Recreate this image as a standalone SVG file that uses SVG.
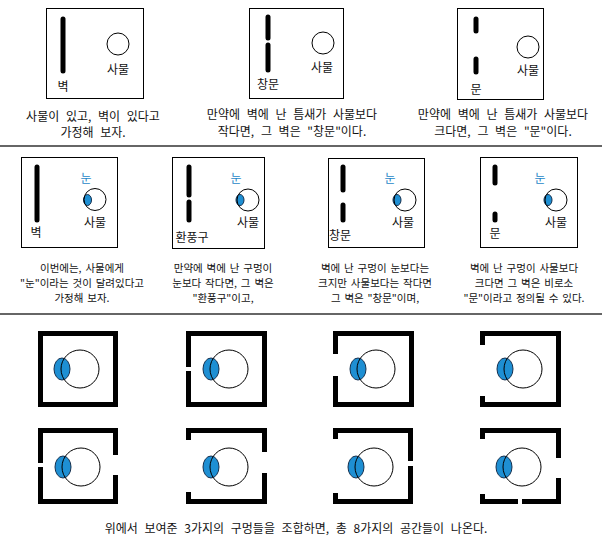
<svg xmlns="http://www.w3.org/2000/svg" width="602" height="547" viewBox="0 0 602 547">
<style>
text{font-family:"Noto Sans CJK KR","Noto Sans",sans-serif;font-size:12px;fill:#111;word-spacing:4px;}
.c{text-anchor:middle;}
.s{font-size:10.5px;word-spacing:1.5px;}
.eyet{fill:#1f88c8;}
.frame{fill:#fff;stroke:#000;stroke-width:1;}
.bar{stroke:#000;stroke-width:5;stroke-linecap:round;fill:none;}
.obj{fill:none;stroke:#000;stroke-width:1;}
.eye{fill:#1e8fd3;stroke:#16304e;stroke-width:1;}
.wall{fill:#000;}
.sep{stroke:#333;stroke-width:1.5;}
</style>
<rect width="602" height="547" fill="#fff"/>
<g id="separators">
<line class="sep" x1="0" y1="146" x2="602" y2="146"/>
<line class="sep" x1="0" y1="314" x2="602" y2="314"/>
</g>
<!-- Row 1 -->
<g id="p1">
<rect class="frame" x="46.5" y="8.5" width="97" height="90"/>
<line class="bar" x1="63" y1="19" x2="63" y2="71"/>
<circle class="obj" cx="118" cy="44" r="11"/>
<text class="c" x="118" y="74">사물</text>
<text class="c" x="63" y="91">벽</text>
<text class="c" x="93" y="121">사물이 있고, 벽이 있다고</text>
<text class="c" x="93" y="137">가정해 보자.</text>
</g>
<g id="p2">
<rect class="frame" x="249.5" y="8.5" width="94" height="90"/>
<line class="bar" x1="268" y1="17" x2="268" y2="38"/>
<line class="bar" x1="268" y1="45" x2="268" y2="70"/>
<circle class="obj" cx="323" cy="43" r="11"/>
<text class="c" x="322" y="72">사물</text>
<text class="c" x="268" y="89">창문</text>
<text class="c" x="292" y="119">만약에 벽에 난 틈새가 사물보다</text>
<text class="c" x="292" y="136">작다면, 그 벽은 "창문"이다.</text>
</g>
<g id="p3">
<rect class="frame" x="457.5" y="8.5" width="86" height="91"/>
<line class="bar" x1="476" y1="19" x2="476" y2="31"/>
<line class="bar" x1="476" y1="59" x2="476" y2="72"/>
<circle class="obj" cx="528" cy="47" r="11"/>
<text class="c" x="528" y="75">사물</text>
<text class="c" x="476" y="94">문</text>
<text class="c" x="503" y="119">만약에 벽에 난 틈새가 사물보다</text>
<text class="c" x="503" y="136">크다면, 그 벽은 "문"이다.</text>
</g>
<!-- Row 2 -->
<g id="p4">
<rect class="frame" x="21.5" y="157.5" width="96" height="90"/>
<line class="bar" x1="37" y1="167" x2="37" y2="220"/>
<ellipse class="eye" cx="87.5" cy="200" rx="4" ry="5.5"/>
<circle class="obj" cx="95" cy="199.5" r="11"/>
<text class="c eyet" x="86" y="183">눈</text>
<text class="c" x="95" y="227">사물</text>
<text class="c" x="36" y="237">벽</text>
<text class="c s" x="82" y="272">이번에는, 사물에게</text>
<text class="c s" x="82" y="287">"눈"이라는 것이 달려있다고</text>
<text class="c s" x="82" y="302">가정해 보자.</text>
</g>
<g id="p5">
<rect class="frame" x="172.5" y="157.5" width="92" height="91"/>
<line class="bar" x1="189" y1="167" x2="189" y2="195"/>
<line class="bar" x1="189" y1="202" x2="189" y2="220"/>
<ellipse class="eye" cx="240" cy="200" rx="4" ry="5.5"/>
<circle class="obj" cx="248" cy="200" r="11"/>
<text class="c eyet" x="236" y="183">눈</text>
<text class="c" x="248" y="227">사물</text>
<text class="c" x="192" y="242">환풍구</text>
<text class="c s" x="223" y="272">만약에 벽에 난 구멍이</text>
<text class="c s" x="223" y="287">눈보다 작다면, 그 벽은</text>
<text class="c s" x="223" y="302">"환풍구"이고,</text>
</g>
<g id="p6">
<rect class="frame" x="328.5" y="158.5" width="96" height="89"/>
<line class="bar" x1="343" y1="167" x2="343" y2="190"/>
<line class="bar" x1="343" y1="205" x2="343" y2="220"/>
<ellipse class="eye" cx="397" cy="200" rx="4" ry="5.5"/>
<circle class="obj" cx="405" cy="200" r="11"/>
<text class="c eyet" x="390" y="183">눈</text>
<text class="c" x="403" y="227">사물</text>
<text class="c" x="340" y="240">창문</text>
<text class="c s" x="375" y="272">벽에 난 구멍이 눈보다는</text>
<text class="c s" x="375" y="287">크지만 사물보다는 작다면</text>
<text class="c s" x="375" y="302">그 벽은 "창문"이며,</text>
</g>
<g id="p7">
<rect class="frame" x="480.5" y="157.5" width="97" height="90"/>
<line class="bar" x1="495" y1="167" x2="495" y2="183"/>
<line class="bar" x1="495" y1="214" x2="495" y2="220"/>
<ellipse class="eye" cx="548" cy="200" rx="4" ry="5.5"/>
<circle class="obj" cx="556" cy="200" r="11"/>
<text class="c eyet" x="540" y="183">눈</text>
<text class="c" x="556" y="227">사물</text>
<text class="c" x="495" y="238">문</text>
<text class="c s" x="524" y="272">벽에 난 구멍이 사물보다</text>
<text class="c s" x="524" y="287">크다면 그 벽은 비로소</text>
<text class="c s" x="524" y="302">"문"이라고 정의될 수 있다.</text>
</g>
<!-- Row 3 -->
<g id="b1">
<rect class="wall" x="38" y="331" width="80" height="5"/>
<rect class="wall" x="38" y="402" width="80" height="5"/>
<rect class="wall" x="38" y="331" width="5" height="76"/>
<rect class="wall" x="113" y="331" width="5" height="76"/>
<ellipse class="eye" cx="62" cy="369" rx="8" ry="11"/>
<circle class="obj" cx="80" cy="369" r="19"/>
</g>
<g id="b2">
<rect class="wall" x="186" y="331" width="81" height="5"/>
<rect class="wall" x="186" y="402" width="81" height="5"/>
<rect class="wall" x="186" y="331" width="5" height="36"/>
<rect class="wall" x="186" y="371" width="5" height="36"/>
<rect class="wall" x="262" y="331" width="5" height="76"/>
<ellipse class="eye" cx="211" cy="369" rx="8" ry="11"/>
<circle class="obj" cx="229" cy="369" r="19"/>
</g>
<g id="b3">
<rect class="wall" x="333" y="331" width="81" height="5"/>
<rect class="wall" x="333" y="402" width="81" height="5"/>
<rect class="wall" x="333" y="331" width="5" height="23"/>
<rect class="wall" x="333" y="376" width="5" height="31"/>
<rect class="wall" x="409" y="331" width="5" height="76"/>
<ellipse class="eye" cx="358" cy="369" rx="8" ry="11"/>
<circle class="obj" cx="376" cy="369" r="19"/>
</g>
<g id="b4">
<rect class="wall" x="480" y="331" width="81" height="5"/>
<rect class="wall" x="480" y="402" width="81" height="5"/>
<rect class="wall" x="480" y="331" width="5" height="14"/>
<rect class="wall" x="480" y="396" width="5" height="11"/>
<rect class="wall" x="556" y="331" width="5" height="76"/>
<ellipse class="eye" cx="505" cy="369" rx="8" ry="11"/>
<circle class="obj" cx="523" cy="369" r="19"/>
</g>
<!-- Row 4 -->
<g id="b5">
<rect class="wall" x="38" y="428" width="80" height="5"/>
<rect class="wall" x="38" y="499" width="80" height="5"/>
<rect class="wall" x="38" y="428" width="5" height="35"/>
<rect class="wall" x="38" y="467" width="5" height="37"/>
<rect class="wall" x="113" y="428" width="5" height="27"/>
<rect class="wall" x="113" y="475" width="5" height="29"/>
<ellipse class="eye" cx="63" cy="467" rx="8" ry="11"/>
<circle class="obj" cx="81" cy="467" r="19"/>
</g>
<g id="b6">
<rect class="wall" x="186" y="428" width="81" height="5"/>
<rect class="wall" x="186" y="499" width="81" height="5"/>
<rect class="wall" x="186" y="428" width="5" height="12"/>
<rect class="wall" x="186" y="492" width="5" height="12"/>
<rect class="wall" x="262" y="428" width="5" height="24"/>
<rect class="wall" x="262" y="473" width="5" height="31"/>
<ellipse class="eye" cx="211" cy="467" rx="8" ry="11"/>
<circle class="obj" cx="229" cy="467" r="19"/>
</g>
<g id="b7">
<rect class="wall" x="333" y="428" width="80" height="5"/>
<rect class="wall" x="333" y="499" width="80" height="5"/>
<rect class="wall" x="333" y="428" width="5" height="11"/>
<rect class="wall" x="333" y="493" width="5" height="11"/>
<rect class="wall" x="408" y="428" width="5" height="33"/>
<rect class="wall" x="408" y="466" width="5" height="38"/>
<ellipse class="eye" cx="356" cy="467" rx="8" ry="11"/>
<circle class="obj" cx="374" cy="467" r="19"/>
</g>
<g id="b8">
<rect class="wall" x="480" y="428" width="81" height="5"/>
<rect class="wall" x="480" y="499" width="38" height="5"/>
<rect class="wall" x="522" y="499" width="39" height="5"/>
<rect class="wall" x="480" y="428" width="5" height="11"/>
<rect class="wall" x="480" y="494" width="5" height="10"/>
<rect class="wall" x="556" y="428" width="5" height="30"/>
<rect class="wall" x="556" y="478" width="5" height="26"/>
<ellipse class="eye" cx="504" cy="467" rx="8" ry="11"/>
<circle class="obj" cx="522" cy="467" r="19"/>
</g>
<g id="caption">
<text class="c" x="296" y="533">위에서 보여준 3가지의 구멍들을 조합하면, 총 8가지의 공간들이 나온다.</text>
</g>
</svg>
